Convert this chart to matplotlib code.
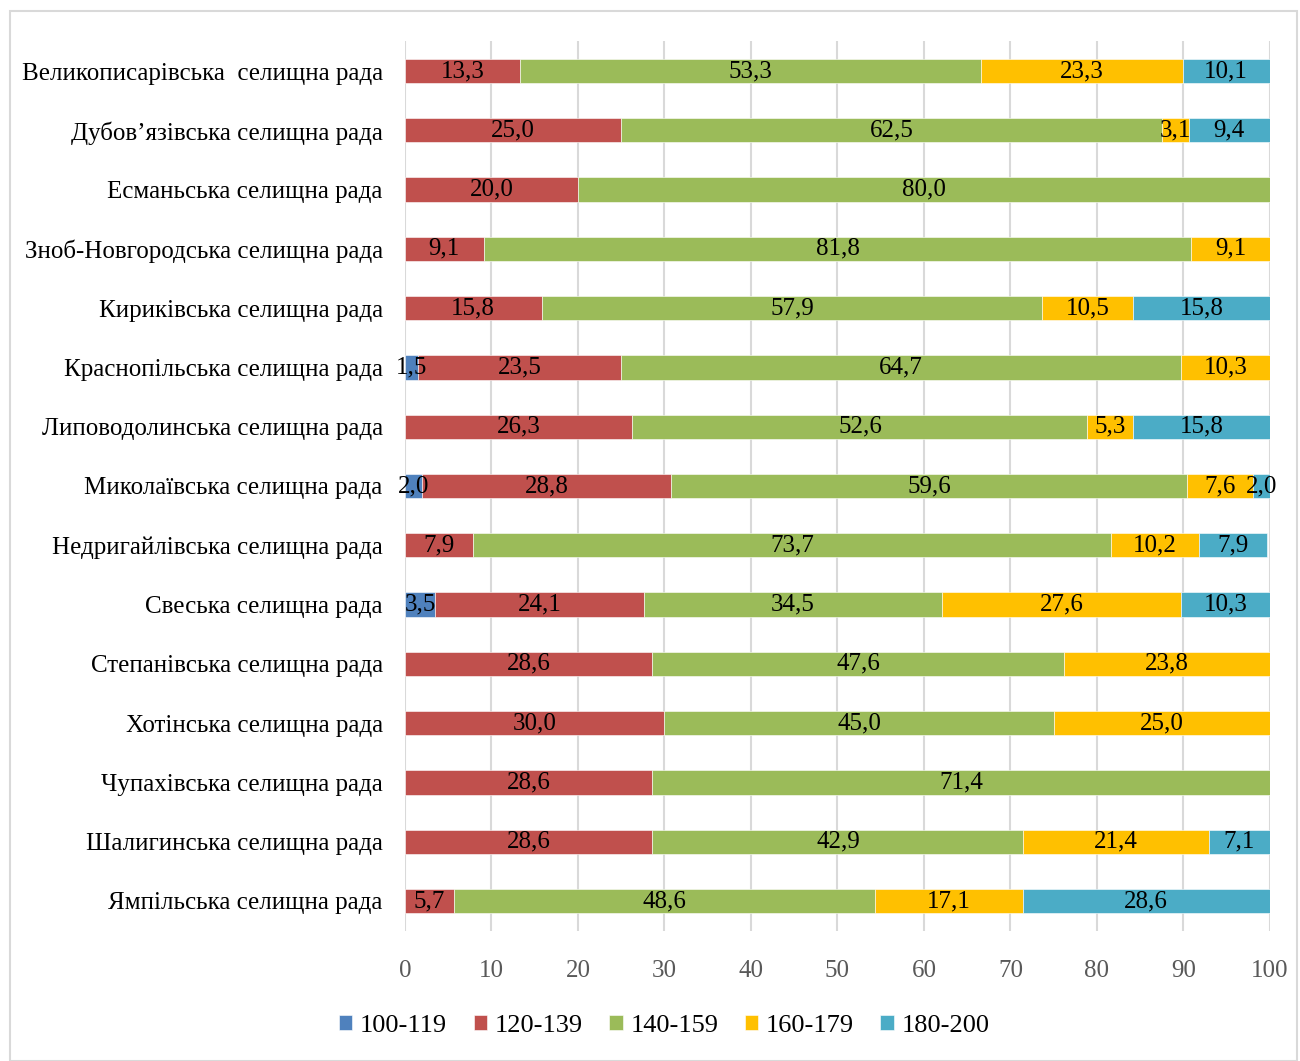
import matplotlib
matplotlib.use("Agg")
import matplotlib.pyplot as plt
import numpy as np

plt.rcParams['font.family'] = ['Liberation Serif', 'DejaVu Serif']

councils = [
    "Великописарівська  селищна рада",
    "Дубов’язівська селищна рада",
    "Есманьська селищна рада",
    "Зноб-Новгородська селищна рада",
    "Кириківська селищна рада",
    "Краснопільська селищна рада",
    "Липоводолинська селищна рада",
    "Миколаївська селищна рада",
    "Недригайлівська селищна рада",
    "Свеська селищна рада",
    "Степанівська селищна рада",
    "Хотінська селищна рада",
    "Чупахівська селищна рада",
    "Шалигинська селищна рада",
    "Ямпільська селищна рада",
]
groups = ["100-119", "120-139", "140-159", "160-179", "180-200"]
g100 = [0, 0, 0, 0, 0, 1.5, 0, 2.0, 0, 3.5, 0, 0, 0, 0, 0]
g120 = [13.3, 25.0, 20.0, 9.1, 15.8, 23.5, 26.3, 28.8, 7.9, 24.1, 28.6, 30.0, 28.6, 28.6, 5.7]
g140 = [53.3, 62.5, 80.0, 81.8, 57.9, 64.7, 52.6, 59.6, 73.7, 34.5, 47.6, 45.0, 71.4, 42.9, 48.6]
g160 = [23.3, 3.1, 0, 9.1, 10.5, 10.3, 5.3, 7.6, 10.2, 27.6, 23.8, 25.0, 0, 21.4, 17.1]
g180 = [10.1, 9.4, 0, 0, 15.8, 0, 15.8, 2.0, 7.9, 10.3, 0, 0, 0, 7.1, 28.6]
colors = ['#4F81BD', '#C0504D', '#9BBB59', '#FFC000', '#4BACC6']

fig = plt.figure(figsize=(13, 10.61), dpi=100)
ax = fig.add_axes([0.3115, 0.1229, 0.6654, 0.8381])

# frame around the whole picture
fig.patches.append(plt.Rectangle((0.008, 0.0), 0.99, 0.99, transform=fig.transFigure,
                                 fill=False, edgecolor='#D9D9D9', linewidth=1.5))

y = np.arange(len(councils))
left = np.zeros(len(councils))
for name, vals, c in zip(groups, [g100, g120, g140, g160, g180], colors):
    vals = np.array(vals)
    bars = ax.barh(y, vals, left=left, height=0.41, color=c, label=name,
                   edgecolor='white', linewidth=0.4, zorder=2)
    labels = [("%.1f" % v).replace('.', ',') if v > 0 else "" for v in vals]
    texts = ax.bar_label(bars, labels=labels, label_type='center', fontsize=18, color='black')
    for t in texts:
        t.set_zorder(6)
        t.set_clip_on(False)
    left += vals

ax.set_ylim(len(councils) - 0.5, -0.5)
ax.set_xlim(0, 100)
ax.set_yticks(y)
ax.set_yticklabels(councils, fontsize=18)
ax.set_xticks(range(0, 101, 10))
ax.tick_params(axis='x', labelsize=18, labelcolor='#595959', length=0, pad=21)
ax.tick_params(axis='y', length=0, pad=16)
ax.grid(axis='x', color='#D9D9D9', linewidth=1.5, zorder=0)
ax.set_axisbelow(True)
for s in ax.spines.values():
    s.set_visible(False)

leg = ax.legend(loc='center', bbox_to_anchor=(0.511, 0.033), bbox_transform=fig.transFigure,
                ncol=5, frameon=False, fontsize=19,
                handlelength=0.5, handleheight=0.5, handletextpad=0.3, columnspacing=1.0)
for t in leg.get_texts():
    t.set_fontfamily('Liberation Serif')

fig.savefig("out.png", dpi=100)
